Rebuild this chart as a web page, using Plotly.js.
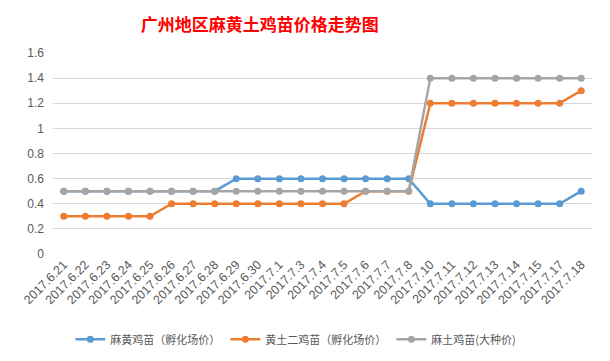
<!DOCTYPE html>
<html><head><meta charset="utf-8">
<script src="https://cdn.plot.ly/plotly-3.0.1.min.js"></script>
<style>body{margin:0;background:#fff}#c{width:610px;height:361px}</style>
</head><body><div id="c"></div>
<script>
const categories = ["2017.6.21","2017.6.22","2017.6.23","2017.6.24","2017.6.25","2017.6.26","2017.6.27","2017.6.28","2017.6.29","2017.6.30","2017.7.1","2017.7.3","2017.7.4","2017.7.5","2017.7.6","2017.7.7","2017.7.8","2017.7.10","2017.7.11","2017.7.12","2017.7.13","2017.7.14","2017.7.15","2017.7.17","2017.7.18"];
const seriesNames = ["麻黄鸡苗（孵化场价）","黄土二鸡苗（孵化场价）","麻土鸡苗(大种价)"];
const mahuang = [0.5,0.5,0.5,0.5,0.5,0.5,0.5,0.5,0.6,0.6,0.6,0.6,0.6,0.6,0.6,0.6,0.6,0.4,0.4,0.4,0.4,0.4,0.4,0.4,0.5];
const huangtu2 = [0.3,0.3,0.3,0.3,0.3,0.4,0.4,0.4,0.4,0.4,0.4,0.4,0.4,0.4,0.5,0.5,0.5,1.2,1.2,1.2,1.2,1.2,1.2,1.2,1.3];
const matu = [0.5,0.5,0.5,0.5,0.5,0.5,0.5,0.5,0.5,0.5,0.5,0.5,0.5,0.5,0.5,0.5,0.5,1.4,1.4,1.4,1.4,1.4,1.4,1.4,1.4];
const colors = ["#5B9BD5","#ED7D31","#A5A5A5"];
const yTicks = [0,0.2,0.4,0.6,0.8,1,1.2,1.4,1.6];

const font = "Liberation Sans, Arial, Noto Sans CJK SC, sans-serif";
const data = [mahuang, huangtu2, matu].map((v,i)=>({
  type:'scatter', mode:'lines+markers', x:categories, y:v, name:seriesNames[i],
  line:{color:colors[i], width:2.5}, marker:{color:colors[i], size:7}
}));
const layout = {
  width:610, height:361,
  margin:{l:53, r:18, t:53, b:107},
  paper_bgcolor:'#fff', plot_bgcolor:'#fff',
  font:{family:font, color:'#595959', size:11},
  title:{text:'广州地区麻黄土鸡苗价格走势图', font:{family:'Noto Sans CJK SC', size:17, color:'#FF0000', weight:'bold'},
         x:0.426, xanchor:'center', xref:'container', y:0.93, yref:'container', yanchor:'middle'},
  xaxis:{type:'category', range:[-0.5,24.5], tickangle:-45, showgrid:false, zeroline:false,
         showline:false, ticks:'', tickfont:{size:12.5, color:'#595959'}},
  yaxis:{range:[0,1.6], tickvals:yTicks, ticktext:yTicks.map(String), showgrid:true, gridcolor:'#D9D9D9',
         gridwidth:1, zeroline:false, showline:false, ticklabelstandoff:8, tickfont:{size:12, color:'#595959'}},
  showlegend:true,
  legend:{orientation:'h', x:0.485, xanchor:'center', xref:'container', y:0.06, yref:'container', yanchor:'middle',
          font:{size:11, color:'#595959', family:'Noto Sans CJK SC, sans-serif'}, itemwidth:30, tracegroupgap:0}
};
Plotly.newPlot('c', data, layout, {displayModeBar:false, staticPlot:true});
</script></body></html>
